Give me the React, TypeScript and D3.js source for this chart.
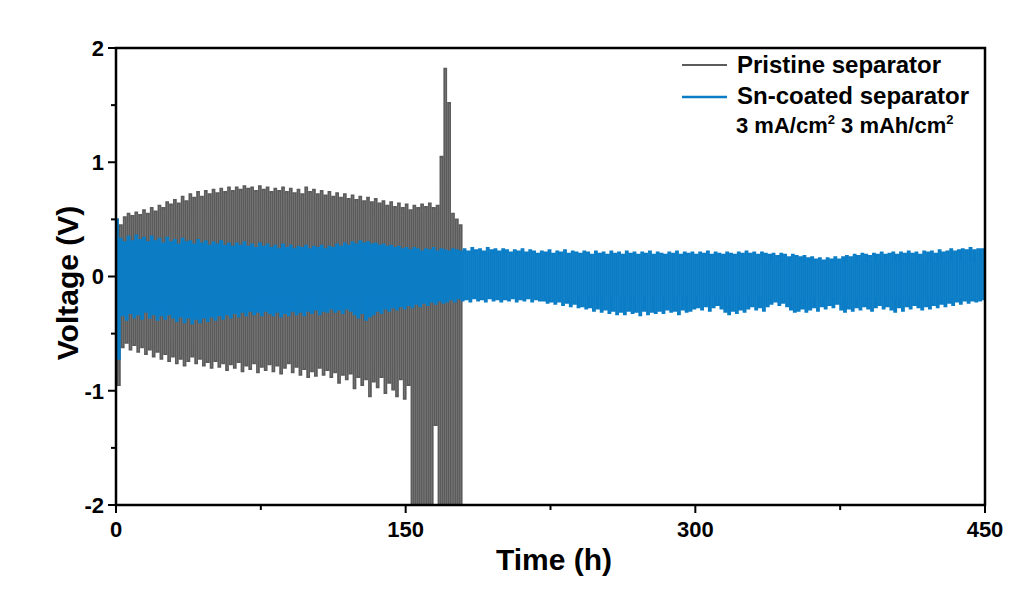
import React from "react";
import * as d3 from "d3";

// Per-cycle (2 h per cycle) peak voltages
const pristineUpper = [
  0.50, 0.45, 0.52, 0.55, 0.53, 0.56, 0.54, 0.58, 0.55, 0.60,
  0.57, 0.62, 0.60, 0.65, 0.63, 0.67, 0.64, 0.70, 0.66, 0.72,
  0.69, 0.74, 0.70, 0.75, 0.72, 0.76, 0.73, 0.77, 0.74, 0.78,
  0.75, 0.78, 0.76, 0.79, 0.77, 0.78, 0.75, 0.79, 0.76, 0.78,
  0.74, 0.77, 0.75, 0.78, 0.74, 0.77, 0.73, 0.76, 0.72, 0.78,
  0.74, 0.76, 0.72, 0.75, 0.71, 0.74, 0.70, 0.73, 0.69, 0.72,
  0.68, 0.71, 0.67, 0.70, 0.66, 0.69, 0.65, 0.68, 0.64, 0.66,
  0.62, 0.65, 0.61, 0.64, 0.60, 0.63, 0.58, 0.62, 0.60, 0.63,
  0.61, 0.64, 0.60, 0.62, 1.05, 1.82, 1.52, 0.55, 0.50, 0.45,
];
const pristineLower = [
  -0.95, -0.62, -0.58, -0.64, -0.60, -0.66, -0.62, -0.68, -0.64, -0.70,
  -0.66, -0.72, -0.68, -0.74, -0.70, -0.76, -0.72, -0.78, -0.74, -0.70,
  -0.76, -0.72, -0.78, -0.75, -0.80, -0.74, -0.79, -0.76, -0.82, -0.77,
  -0.80, -0.75, -0.83, -0.78, -0.81, -0.76, -0.84, -0.79, -0.82, -0.77,
  -0.83, -0.78, -0.85, -0.80, -0.76, -0.84, -0.79, -0.86, -0.81, -0.88,
  -0.83, -0.87, -0.80, -0.86, -0.82, -0.88, -0.84, -0.93, -0.86, -0.90,
  -0.85, -0.98, -0.88, -0.95, -0.90, -1.05, -0.92, -0.97, -0.88, -1.02,
  -0.93, -0.99, -1.05, -0.90, -1.07, -0.95, -2.1, -2.1, -2.1, -2.1,
  -2.1, -2.1, -1.3, -2.1, -2.1, -2.1, -2.1, -2.1, -2.1, -2.1,
];
const snUpper = [
  0.50, 0.33, 0.30, 0.35, 0.31, 0.36, 0.32, 0.34, 0.30, 0.35,
  0.31, 0.33, 0.29, 0.34, 0.30, 0.32, 0.28, 0.33, 0.30, 0.31,
  0.28, 0.32, 0.29, 0.31, 0.27, 0.30, 0.28, 0.31, 0.27, 0.29,
  0.26, 0.29, 0.27, 0.30, 0.26, 0.28, 0.25, 0.29, 0.26, 0.28,
  0.25, 0.27, 0.24, 0.28, 0.25, 0.27, 0.24, 0.26, 0.25, 0.27,
  0.24, 0.26, 0.25, 0.27, 0.24, 0.26, 0.25, 0.28, 0.26, 0.29,
  0.27, 0.30, 0.28, 0.31, 0.29, 0.30, 0.28, 0.29, 0.27, 0.28,
  0.26, 0.27, 0.25, 0.26, 0.24, 0.25, 0.23, 0.25, 0.24, 0.22,
  0.24, 0.23, 0.25, 0.22, 0.24, 0.23, 0.22, 0.24, 0.23, 0.22,
  0.24, 0.22, 0.25, 0.23, 0.24, 0.22, 0.25, 0.23, 0.24, 0.22,
  0.24, 0.23, 0.21, 0.23, 0.22, 0.24, 0.21, 0.23, 0.22, 0.20,
  0.22, 0.21, 0.23, 0.20, 0.22, 0.21, 0.23, 0.20, 0.22, 0.21,
  0.20, 0.22, 0.21, 0.19, 0.22, 0.20, 0.21, 0.19, 0.22, 0.20,
  0.21, 0.19, 0.22, 0.20, 0.21, 0.19, 0.21, 0.20, 0.22, 0.19,
  0.21, 0.20, 0.19, 0.21, 0.20, 0.22, 0.19, 0.21, 0.20, 0.21,
  0.19, 0.21, 0.20, 0.22, 0.19, 0.21, 0.20, 0.19, 0.21, 0.20,
  0.19, 0.21, 0.20, 0.22, 0.20, 0.21, 0.19, 0.21, 0.20, 0.19,
  0.20, 0.18, 0.20, 0.19, 0.17, 0.19, 0.18, 0.17, 0.18, 0.16,
  0.17, 0.15, 0.16, 0.14, 0.16, 0.15, 0.17, 0.15, 0.17, 0.18,
  0.17, 0.19, 0.18, 0.20, 0.19, 0.18, 0.20, 0.19, 0.21, 0.19,
  0.20, 0.21, 0.19, 0.21, 0.20, 0.22, 0.20, 0.21, 0.19, 0.22,
  0.21, 0.22, 0.20, 0.23, 0.21, 0.22, 0.24, 0.22, 0.23, 0.24,
  0.23, 0.25, 0.23, 0.24, 0.24,
];
const snLower = [
  -0.72, -0.34, -0.38, -0.32, -0.36, -0.33, -0.37, -0.31, -0.36, -0.33,
  -0.38, -0.34, -0.37, -0.33, -0.36, -0.39, -0.35, -0.40, -0.36, -0.41,
  -0.37, -0.40, -0.36, -0.39, -0.35, -0.38, -0.34, -0.37, -0.33, -0.36,
  -0.32, -0.35, -0.31, -0.34, -0.30, -0.33, -0.31, -0.34, -0.30, -0.32,
  -0.34, -0.31, -0.35, -0.32, -0.34, -0.30, -0.33, -0.31, -0.34, -0.30,
  -0.32, -0.29, -0.33, -0.30, -0.31, -0.28, -0.31, -0.29, -0.32, -0.28,
  -0.30, -0.33, -0.36, -0.32, -0.38, -0.35, -0.33, -0.30, -0.32, -0.28,
  -0.30, -0.27, -0.29, -0.26, -0.28, -0.25, -0.27, -0.24, -0.26, -0.23,
  -0.25, -0.22, -0.24, -0.21, -0.23, -0.22, -0.20, -0.22, -0.19, -0.21,
  -0.20, -0.22, -0.19, -0.21, -0.20, -0.22, -0.19, -0.21, -0.20, -0.22,
  -0.20, -0.21, -0.19, -0.22, -0.20, -0.21, -0.19, -0.22, -0.20, -0.21,
  -0.21, -0.23, -0.22, -0.24, -0.22, -0.25, -0.23, -0.26, -0.24, -0.27,
  -0.26, -0.28, -0.27, -0.30, -0.28, -0.31, -0.29, -0.32, -0.30, -0.33,
  -0.31, -0.33, -0.30, -0.32, -0.31, -0.34, -0.30, -0.33, -0.31, -0.32,
  -0.30, -0.32, -0.29, -0.31, -0.30, -0.33, -0.29, -0.31, -0.30, -0.28,
  -0.27, -0.29, -0.26, -0.30, -0.27, -0.25, -0.28, -0.31, -0.33, -0.30,
  -0.32, -0.29, -0.31, -0.28, -0.26, -0.29, -0.27, -0.30, -0.26, -0.24,
  -0.22, -0.25, -0.23, -0.26, -0.29, -0.31, -0.30, -0.28, -0.31, -0.29,
  -0.27, -0.30, -0.26, -0.28, -0.25, -0.27, -0.24, -0.29, -0.31, -0.28,
  -0.30, -0.27, -0.29, -0.26, -0.28, -0.30, -0.27, -0.25, -0.28, -0.26,
  -0.29, -0.31, -0.27, -0.30, -0.26, -0.28, -0.25, -0.27, -0.29, -0.26,
  -0.28, -0.25, -0.27, -0.24, -0.26, -0.23, -0.25, -0.22, -0.24, -0.21,
  -0.23, -0.21, -0.22, -0.21, -0.20,
];

const cycleHours = 2;
const xMajorTicks = [0, 150, 300, 450];
const xMinorTicks = [75, 225, 375];
const yMajorTicks = [-2, -1, 0, 1, 2];
const yMinorTicks = [-1.5, -0.5, 0.5, 1.5];
const seriesNames = ["Pristine separator", "Sn-coated separator"];
const seriesColors = ["#5b5b5b", "#0a7dc6"];

const FONT = "'Liberation Sans', Arial, sans-serif";

function buildPoints(upper: number[], lower: number[]): [number, number][] {
  const pts: [number, number][] = [];
  upper.forEach((u, i) => {
    pts.push([i * cycleHours, u]);
    pts.push([i * cycleHours + cycleHours / 2, lower[i]]);
  });
  pts.push([upper.length * cycleHours, lower[lower.length - 1]]);
  return pts;
}

export default function App() {
  const x = d3.scaleLinear().domain([0, 450]).range([116, 985]);
  const y = d3.scaleLinear().domain([-2, 2]).range([505, 48]);
  const line = d3
    .line<[number, number]>()
    .x((d) => x(d[0]))
    .y((d) => y(d[1]))
    .curve(d3.curveStepAfter);

  const pPath = line(buildPoints(pristineUpper, pristineLower)) || "";
  const sPath = line(buildPoints(snUpper, snLower)) || "";

  const [x0, x1] = x.range();
  const [yb, yt] = y.range();

  return (
    <svg width={1024} height={606} style={{ display: "block", position: "absolute", left: 0, top: 0 }}>
      <rect width={1024} height={606} fill="#fff" />
      <defs>
        <clipPath id="plotClip">
          <rect x={x0} y={yt} width={x1 - x0} height={yb - yt} />
        </clipPath>
      </defs>
      <g clipPath="url(#plotClip)">
        <path d={pPath} fill="none" stroke={seriesColors[0]} strokeWidth={1.8} />
        <path d={sPath} fill="none" stroke={seriesColors[1]} strokeWidth={1.9} />
      </g>
      <rect x={x0} y={yt} width={x1 - x0} height={yb - yt} fill="none" stroke="#000" strokeWidth={2.5} />
      {xMajorTicks.map((t) => (
        <g key={"xM" + t}>
          <line x1={x(t)} x2={x(t)} y1={yb} y2={yb + 8} stroke="#000" strokeWidth={2} />
          <text x={x(t)} y={537} textAnchor="middle" fontFamily={FONT} fontWeight="bold" fontSize={22}>
            {t}
          </text>
        </g>
      ))}
      {xMinorTicks.map((t) => (
        <line key={"xm" + t} x1={x(t)} x2={x(t)} y1={yb} y2={yb + 5} stroke="#000" strokeWidth={2} />
      ))}
      {yMajorTicks.map((t) => (
        <g key={"yM" + t}>
          <line x1={x0 - 8} x2={x0} y1={y(t)} y2={y(t)} stroke="#000" strokeWidth={2} />
          <text x={104} y={y(t)} dy="0.36em" textAnchor="end" fontFamily={FONT} fontWeight="bold" fontSize={22}>
            {t}
          </text>
        </g>
      ))}
      {yMinorTicks.map((t) => (
        <line key={"ym" + t} x1={x0 - 5} x2={x0} y1={y(t)} y2={y(t)} stroke="#000" strokeWidth={2} />
      ))}
      <text x={554} y={570} textAnchor="middle" fontFamily={FONT} fontWeight="bold" fontSize={30}>
        Time (h)
      </text>
      <text
        transform={`translate(78,283) rotate(-90)`}
        textAnchor="middle"
        fontFamily={FONT}
        fontWeight="bold"
        fontSize={30}
      >
        Voltage (V)
      </text>
      {/* legend */}
      <line x1={682} x2={727} y1={65} y2={65} stroke={seriesColors[0]} strokeWidth={2} />
      <text x={737} y={73} fontFamily={FONT} fontWeight="bold" fontSize={24}>
        {seriesNames[0]}
      </text>
      <line x1={682} x2={727} y1={97} y2={97} stroke={seriesColors[1]} strokeWidth={2.5} />
      <text x={737} y={104} fontFamily={FONT} fontWeight="bold" fontSize={24}>
        {seriesNames[1]}
      </text>
      <text x={736} y={133} fontFamily={FONT} fontWeight="bold" fontSize={22}>
        3 mA/cm
        <tspan fontSize={13} dy={-9}>2</tspan>
        <tspan dy={9}> 3 mAh/cm</tspan>
        <tspan fontSize={13} dy={-9}>2</tspan>
      </text>
    </svg>
  );
}
